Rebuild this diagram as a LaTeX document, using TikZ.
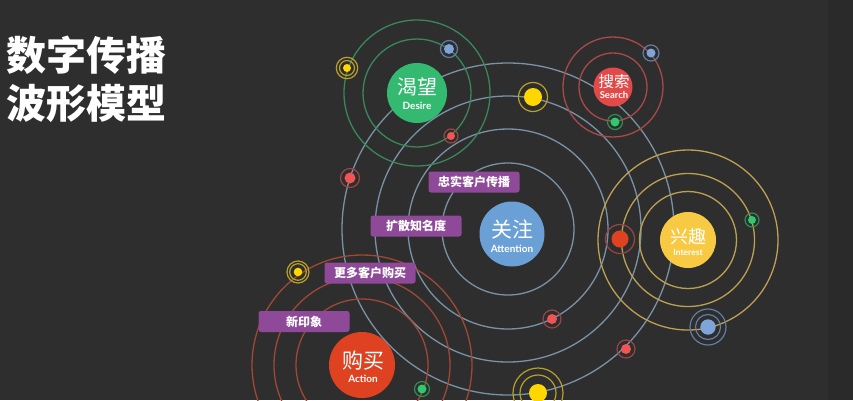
\documentclass[tikz,border=0pt]{standalone}
\usepackage{fontspec}
\setmainfont{Noto Sans CJK SC}
\newfontfamily\enfont{Lato}
\definecolor{bgc}{RGB}{46,46,46}
\definecolor{bandc}{RGB}{42,42,42}
\definecolor{ringblue}{RGB}{122,146,166}
\definecolor{ringgreen}{RGB}{58,135,92}
\definecolor{ringred}{RGB}{168,74,74}
\definecolor{ringgold}{RGB}{190,160,82}
\definecolor{ringorange}{RGB}{160,72,52}
\definecolor{labelpurple}{RGB}{142,74,152}
\definecolor{desgreen}{RGB}{52,186,112}
\definecolor{seared}{RGB}{226,74,74}
\definecolor{attblue}{RGB}{106,160,214}
\definecolor{intyellow}{RGB}{248,202,68}
\definecolor{actred}{RGB}{222,66,32}
\definecolor{dotyellow}{RGB}{255,214,0}
\definecolor{dotred}{RGB}{240,84,84}
\definecolor{dotblue}{RGB}{126,164,218}
\definecolor{dotgreen}{RGB}{46,200,110}
\definecolor{halored}{RGB}{150,70,70}
\definecolor{haloyellow}{RGB}{185,160,40}
\definecolor{haloblue}{RGB}{100,125,160}
\definecolor{halogreen}{RGB}{50,140,85}
\begin{document}
\begin{tikzpicture}[x=1pt,y=-1pt,
  ringline/.style={draw=#1,line width=1.3pt},
  halo/.style={draw=#1,line width=1.2pt},
  bignode/.style={circle,inner sep=0pt,draw=none},
  zhtext/.style={text=white,inner sep=0pt},
  entext/.style={text=white,inner sep=0pt},
  tag/.style={fill=labelpurple,rounded corners=2.5pt,minimum width=91pt,minimum height=21pt,inner sep=0pt,text=white,font=\bfseries\fontsize{12}{12}\selectfont},
  titletext/.style={text=white,inner sep=0pt,anchor=west,font=\bfseries\fontsize{40}{40}\selectfont}]
\fill[bgc] (0,0) rectangle (853,400);
\fill[bandc] (828,0) rectangle (853,400);
\useasboundingbox (0,0) rectangle (853,400);
\clip (0,0) rectangle (853,400);

% centres
\coordinate (ringc) at (508,229);
\coordinate (desc) at (417,93);
\coordinate (seac) at (613,87);
\coordinate (intc) at (688,240);
\coordinate (actc) at (362,365);

% rings
\foreach \r in {66,100,133,166} \draw[ringline=ringblue] (ringc) circle[radius=\r];
\foreach \r in {54,73} \draw[ringline=ringgreen] (desc) circle[radius=\r];
\foreach \r in {34,50} \draw[ringline=ringred] (seac) circle[radius=\r];
\foreach \r in {48.5,66.5,90} \draw[ringline=ringgold] (intc) circle[radius=\r];
\foreach \r in {66,88,110} \draw[ringline=ringorange] (actc) circle[radius=\r];

% dots
\fill[dotblue] (449,49) circle[radius=5]; \draw[halo=haloblue] (449,49) circle[radius=8.5];
\fill[dotred] (451,136) circle[radius=4]; \draw[halo=halored] (451,136) circle[radius=7];
\fill[dotyellow] (347,68) circle[radius=4]; \draw[halo=haloyellow] (347,68) circle[radius=7.5]; \draw[halo=haloyellow] (347,68) circle[radius=10.7];
\fill[dotyellow] (533,97) circle[radius=9]; \draw[halo=haloyellow] (533,97) circle[radius=14.5];
\fill[dotblue] (651,53) circle[radius=4.5]; \draw[halo=haloblue] (651,53) circle[radius=8];
\fill[dotgreen] (615,122) circle[radius=4.5]; \draw[halo=halogreen] (615,122) circle[radius=7.5];
\fill[dotred] (350,178) circle[radius=5.5]; \draw[halo=halored] (350,178) circle[radius=9.5];
\fill[actred] (620,239) circle[radius=8.5]; \draw[halo=halored] (620,239) circle[radius=14.5];
\fill[dotgreen] (752,220) circle[radius=4]; \draw[halo=halogreen] (752,220) circle[radius=7];
\fill[dotblue] (708,327) circle[radius=7.7]; \draw[halo=haloblue] (708,327) circle[radius=12.5]; \draw[halo=haloblue] (708,327) circle[radius=18];
\fill[dotred] (552,319) circle[radius=5]; \draw[halo=halored] (552,319) circle[radius=9];
\fill[dotred] (626,349) circle[radius=5]; \draw[halo=halored] (626,349) circle[radius=9];
\fill[dotyellow] (538,393) circle[radius=9]; \draw[halo=haloyellow] (538,393) circle[radius=18]; \draw[halo=haloyellow] (538,393) circle[radius=25];
\fill[dotgreen] (422,389) circle[radius=4.5]; \draw[halo=halogreen] (422,389) circle[radius=7.5];
\fill[dotyellow] (298,272) circle[radius=4.3]; \draw[halo=haloyellow] (298,272) circle[radius=8.3]; \draw[halo=haloyellow] (298,272) circle[radius=11];

% labels
\node[tag] (l1) at (474,182) {忠实客户传播};
\node[tag] (l2) at (416,226) {扩散知名度};
\node[tag] (l3) at (370,273) {更多客户购买};
\node[tag] (l4) at (304,321.5) {新印象};

% main nodes
\node[bignode,fill=desgreen,minimum size=60pt] (des) at (desc) {};
\node[zhtext,font=\fontsize{20}{20}\selectfont] (desZh) at (417,87) {渴望};
\node[entext,font=\enfont\bfseries\fontsize{10}{10}\selectfont] (desEn) at (417,106) {Desire};

\node[bignode,fill=seared,minimum size=39pt] (sea) at (seac) {};
\node[zhtext,font=\fontsize{15.5}{15.5}\selectfont] (seaZh) at (614,82) {搜索};
\node[entext,font=\enfont\bfseries\fontsize{9.5}{9.5}\selectfont] (seaEn) at (614,95) {Search};

\node[bignode,fill=attblue,minimum size=65pt] (att) at (512,234) {};
\node[zhtext,font=\fontsize{21}{21}\selectfont] (attZh) at (512,229) {关注};
\node[entext,font=\enfont\bfseries\fontsize{10}{10}\selectfont] (attEn) at (512,249) {Attention};

\node[bignode,fill=intyellow,minimum size=56pt] (int) at (intc) {};
\node[zhtext,font=\fontsize{18}{18}\selectfont] (intZh) at (688,237) {兴趣};
\node[entext,font=\enfont\bfseries\fontsize{8.5}{8.5}\selectfont] (intEn) at (688,252) {Interest};

\node[bignode,fill=actred,minimum size=66pt] (act) at (actc) {};
\node[zhtext,font=\fontsize{21}{21}\selectfont] (actZh) at (363,361) {购买};
\node[entext,font=\enfont\bfseries\fontsize{10}{10}\selectfont] (actEn) at (363,379) {Action};

% title
\node[titletext] (t1) at (6,55) {数字传播};
\node[titletext] (t2) at (6,103) {波形模型};
\end{tikzpicture}
\end{document}
